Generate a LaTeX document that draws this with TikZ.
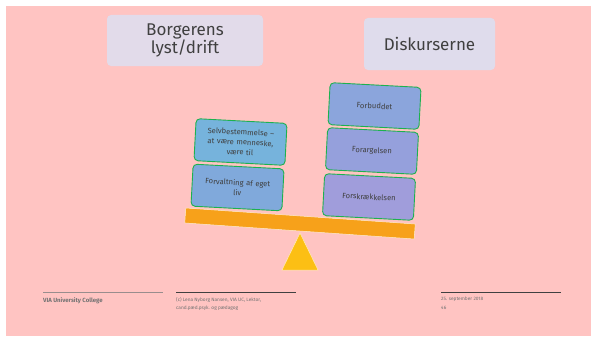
\documentclass[tikz,border=0pt]{standalone}
\usepackage{fontspec}
\setmainfont{Fira Sans}
\usepackage{tikz}
\usetikzlibrary{positioning}

\definecolor{slide}{HTML}{FFC4C2}
\definecolor{lavender}{HTML}{E2DBEA}
\definecolor{lavender2}{HTML}{DFDCEC}
\definecolor{ink}{HTML}{404040}
\definecolor{edge}{HTML}{1DB14F}
\definecolor{beam}{HTML}{F7A11A}
\definecolor{pivot}{HTML}{FCBF14}

\begin{document}
\begin{tikzpicture}
  [x=1pt,y=-1pt,
   every node/.style={text=ink},
   titlebox/.style={rectangle,rounded corners=4pt,fill=lavender,align=center,
     font=\fontsize{17}{16}\selectfont},
   stone/.style={rectangle,rounded corners=4pt,draw=edge,line width=0.9pt,
     minimum width=91pt,minimum height=42pt,text width=84pt,align=center,
     font=\fontsize{7.6}{10}\selectfont,rotate=-3},
   foot/.style={anchor=west,inner sep=0pt,text=gray!90!black,
     font=\fontsize{4.8}{5}\selectfont}]

  \useasboundingbox (0,0) rectangle (591,337);
  \fill[slide] (6,6) rectangle (591,336);

  % headings
  \node[titlebox,minimum width=156pt,minimum height=51pt] (lyst) at (185,40.5) {Borgerens\\lyst/drift};
  \node[titlebox,fill=lavender2,minimum width=131pt,minimum height=52pt] (disk) at (429.5,44) {Diskurserne};

  % the scale
  \node[rectangle,fill=beam,draw=white!80!beam,line width=0.5pt,minimum width=230pt,minimum height=15pt,rotate=-4] (bjaelke) at (300,223.5) {};
  \filldraw[fill=pivot,draw=white!70!pivot,line width=0.5pt] (300,233) -- (318,270) -- (282,270) -- cycle;

  % left side
  \node[stone,fill={rgb,255:red,118;green,179;blue,220}] (selv) at (240.5,142) {Selvbestemmelse --\\at være menneske,\\være til};
  \node[stone,fill={rgb,255:red,128;green,169;blue,219}] (forv) at (237.5,187.5) {Forvaltning af eget\\liv};

  % right side
  \node[stone,fill={rgb,255:red,139;green,165;blue,220}] (forbud) at (374.5,106) {Forbuddet};
  \node[stone,fill={rgb,255:red,149;green,160;blue,220}] (forarg) at (372,151) {Forargelsen};
  \node[stone,fill={rgb,255:red,160;green,157;blue,219}] (forskr) at (369,197) {Forskrækkelsen};

  % footer
  \draw[gray!80!slide,line width=0.6pt] (43,292) -- (163,292);
  \draw[ink,line width=0.6pt] (176,292) -- (296,292);
  \draw[ink,line width=0.6pt] (441,292) -- (561,292);
  \node[foot,font=\fontsize{6}{6}\bfseries] (via) at (43,301) {VIA University College};
  \node[foot] (kilde1) at (176,299.5) {(c) Lena Nyborg Nansen, VIA UC, Lektor,};
  \node[foot] (kilde2) at (176,308) {cand.pæd.psyk. og pædagog};
  \node[foot] (dato) at (441,299.5) {25. september 2018};
  \node[foot] (side) at (441,308) {46};
\end{tikzpicture}
\end{document}
